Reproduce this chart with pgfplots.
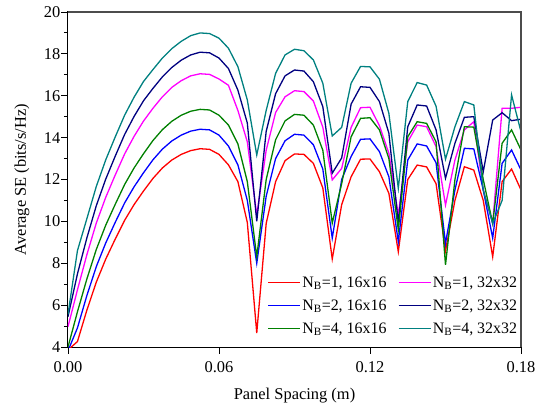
\documentclass[border=0pt]{standalone}
\usepackage{pgfplots}
\usepackage{pgfplotstable}
\pgfplotsset{compat=1.18}
\usepackage{fontspec}
\setmainfont{Liberation Serif}
\definecolor{cred}{RGB}{255,0,0}
\definecolor{cblue}{RGB}{0,0,255}
\definecolor{cgreen}{RGB}{0,128,0}
\definecolor{cmag}{RGB}{255,0,255}
\definecolor{cnavy}{RGB}{0,0,128}
\definecolor{cteal}{RGB}{0,128,128}

\pgfplotstableread{
x        r     b     g     m     n     t
0        3.86  3.82  4.00  4.97  5.45  5.56
0.00375  4.26  4.91  5.68  6.73  7.49  8.60
0.0075   5.76  6.46  7.25  8.41  9.21  10.13
0.01125  7.10  7.84  8.66  9.92  10.75 11.67
0.015    8.20  8.97  9.82  11.15 12.02 12.94
0.01875  9.15  9.95  10.81 12.21 13.11 14.03
0.0225   10.05 10.88 11.76 13.22 14.15 15.07
0.02625  10.80 11.65 12.55 14.06 15.01 15.93
0.03     11.45 12.32 13.23 14.79 15.76 16.68
0.03375  12.05 12.94 13.86 15.40 16.35 17.25
0.0375   12.55 13.45 14.38 15.95 16.90 17.80
0.04125  12.93 13.84 14.78 16.40 17.35 18.25
0.045    13.20 14.12 15.07 16.72 17.70 18.60
0.04875  13.38 14.31 15.26 16.95 17.95 18.87
0.0525   13.47 14.40 15.35 17.05 18.08 19.00
0.05625  13.44 14.37 15.32 17.02 18.05 18.97
0.06     13.20 14.12 15.07 16.80 17.80 18.75
0.06375  12.70 13.60 14.60 16.50 17.30 18.27
0.0675   11.90 12.70 13.70 15.30 16.27 17.39
0.07125  9.95  11.00 11.90 13.80 14.70 15.80
0.075    4.67  8.00  8.31  10.30 10.00 13.17
0.07875  9.90  11.20 12.00 13.40 14.30 15.30
0.0825   11.90 13.00 13.90 15.20 16.10 17.07
0.08625  12.90 13.85 14.80 15.95 16.95 17.95
0.09     13.22 14.16 15.11 16.24 17.23 18.22
0.09375  13.20 14.12 15.07 16.20 17.18 18.15
0.0975   12.77 13.66 14.60 15.75 16.67 17.71
0.10125  11.60 12.50 13.40 14.50 15.48 16.60
0.105    8.20  9.20  9.92  11.98 12.30 14.08
0.10875  10.80 12.00 11.80 12.53 13.03 14.49
0.1125   12.13 13.10 14.04 14.49 15.60 16.60
0.11625  12.97 13.92 14.92 15.43 16.43 17.40
0.12     12.98 13.94 14.95 15.45 16.40 17.38
0.12375  12.37 13.33 14.37 14.57 15.72 16.79
0.1275   11.34 12.13 13.00 13.25 14.21 15.16
0.13125  8.55  9.03  9.60  10.30 9.92  11.58
0.135    12.00 12.93 14.04 13.80 14.52 15.72
0.13875  12.69 13.70 14.76 14.60 15.56 16.63
0.1425   12.60 13.60 14.68 14.52 15.51 16.51
0.14625  11.80 12.80 13.80 13.57 14.37 15.50
0.15     8.60  8.95  7.92  10.78 12.06 12.97
0.15375  11.00 11.50 12.00 12.93 13.73 14.52
0.1575   12.61 13.49 14.52 14.37 14.97 15.72
0.16125  12.45 13.46 14.50 14.76 15.00 15.56
0.165    11.00 11.50 12.00 11.50 12.37 11.50
0.16875  8.31  9.20  9.90  9.90  14.84 9.90
0.1725   11.90 12.77 13.73 15.40 15.19 11.00
0.17625  12.50 13.41 14.37 15.40 14.81 16.04
0.18     11.50 12.45 13.41 15.45 14.88 14.28
}\datatable

\begin{document}
\begin{tikzpicture}
\begin{axis}[
  scale only axis,
  width=453bp, height=335bp,
  xmin=0, xmax=0.18, ymin=4, ymax=20,
  xtick={0,0.06,0.12,0.18},
  xticklabels={0.00,0.06,0.12,0.18},
  ytick={4,6,...,20},
  minor y tick num=1,
  xtick pos=bottom, ytick pos=left,
  tick align=outside,
  major tick length=6.5bp, minor tick length=4bp,
  axis line style={line width=1bp},
  tick style={line width=0.9bp, black},
  clip mode=individual,
  /pgf/number format/assume math mode=true,
  tick label style={font=\fontsize{16.5}{19}\selectfont},
  yticklabel style={inner sep=1bp},
  xticklabel style={inner sep=1bp, yshift=-7bp},
  every axis y label/.style={at={(axis description cs:-0.1015,0.5)}, rotate=90, anchor=center},
  every axis x label/.style={at={(axis description cs:0.5,-0.146)}, anchor=center},
  label style={font=\fontsize{16.5}{20}\selectfont},
  xlabel={Panel Spacing (m)},
  ylabel={Average SE (bits/s/Hz)},
  legend columns=2,
  legend cell align=left,
  legend style={at={(0.44,0.215)}, anchor=north west, draw=none, fill=none,
    font=\fontsize{16}{18}\selectfont, inner sep=0pt, row sep=8bp,
    /tikz/every even column/.append style={column sep=10bp},
    nodes={inner sep=1.5bp}},
  legend image code/.code={\draw[#1] (0bp,0bp) -- (32bp,0bp);},
  every axis plot/.append style={line width=1.3bp},
]
\addplot[cred]  table[x=x,y=r] {\datatable};
\addlegendentry{N\textsubscript{B}=1, 16x16}
\addplot[cmag]  table[x=x,y=m] {\datatable};
\addlegendentry{N\textsubscript{B}=1, 32x32}
\addplot[cblue] table[x=x,y=b] {\datatable};
\addlegendentry{N\textsubscript{B}=2, 16x16}
\addplot[cnavy] table[x=x,y=n] {\datatable};
\addlegendentry{N\textsubscript{B}=2, 32x32}
\addplot[cgreen] table[x=x,y=g] {\datatable};
\addlegendentry{N\textsubscript{B}=4, 16x16}
\addplot[cteal] table[x=x,y=t] {\datatable};
\addlegendentry{N\textsubscript{B}=4, 32x32}
\draw[gray!60!black, line width=1.2bp] (rel axis cs:0,1) -- (rel axis cs:1,1) -- (rel axis cs:1,0);
\end{axis}
\pgfresetboundingbox
\path[use as bounding box] ([shift={(-68bp,-60bp)}]current axis.south west) rectangle ([shift={(35bp,12bp)}]current axis.north east);
\end{tikzpicture}
\end{document}
